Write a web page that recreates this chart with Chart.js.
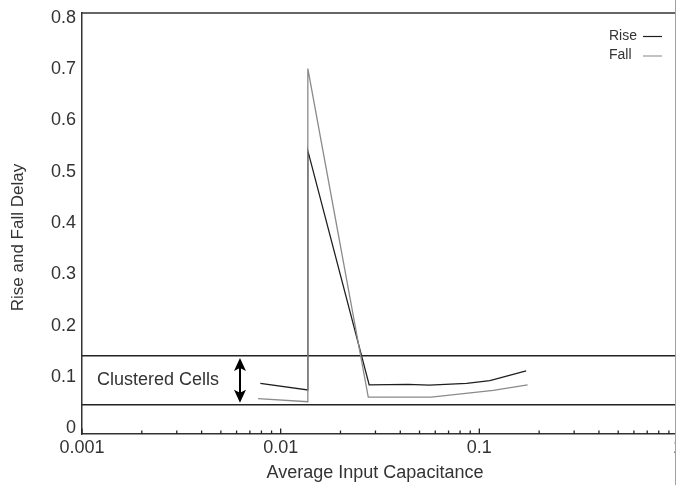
<!DOCTYPE html>
<html><head><meta charset="utf-8">
<script src="https://cdn.jsdelivr.net/npm/chart.js@4.4.0/dist/chart.umd.min.js"></script>
<style>
html,body{margin:0;padding:0;background:#fff;overflow:hidden;}
#wrap{position:absolute;left:0;top:0;width:675px;height:485px;overflow:hidden;border-right:1px solid #a0a0a0;}
#c{display:block;}
</style></head><body>
<div id="wrap"><canvas id="c" width="700" height="485" style="width:700px;height:485px"></canvas></div>
<script>
// ---- data ----
const xMajorTicks = [0.001, 0.01, 0.1, 1];
const xTickLabels = ['0.001', '0.01', '0.1', '1'];
const yTicks = [0, 0.1, 0.2, 0.3, 0.4, 0.5, 0.6, 0.7, 0.8];
const yTickLabels = ['0', '0.1', '0.2', '0.3', '0.4', '0.5', '0.6', '0.7', '0.8'];
const yRange = [-0.0108, 0.8092];
const xRange = [0.001, 1];

const riseX = [0.0079, 0.0137, 0.0137, 0.0279, 0.0438, 0.056, 0.0863, 0.113, 0.172];
const riseY = [0.088, 0.075, 0.541, 0.085, 0.086, 0.0845, 0.088, 0.093, 0.112];
const fallX = [0.0077, 0.0137, 0.0137, 0.0276, 0.0438, 0.0573, 0.1175, 0.175];
const fallY = [0.058, 0.052, 0.701, 0.061, 0.061, 0.061, 0.074, 0.085];

const bandX = [0.001, 1];
const bandY = [0.046, 0.1418];
const arrowX = 0.00624;
const arrowY = [0.0499, 0.137];
const noteX = 0.00119;
const noteY = 0.0949;
const noteText = 'Clustered Cells';
const seriesNames = ['Rise', 'Fall'];
const xTitle = 'Average Input Capacitance';
const yTitle = 'Rise and Fall Delay';

// ---- build ----
const FONT = '"Liberation Sans", Arial, sans-serif';
const TXT = '#333';
const riseColor = '#1e1e1e';
const fallColor = '#8a8a8a';

const xAllTicks = [];
for (let i = 0; i < xMajorTicks.length - 1; i++) {
  for (let m = 1; m <= 9; m++) xAllTicks.push(+(xMajorTicks[i] * m).toPrecision(6));
}
xAllTicks.push(xMajorTicks[xMajorTicks.length - 1]);

const toPts = (xs, ys) => xs.map((x, i) => ({x: x, y: ys[i]}));

const decor = {
  id: 'decor',
  afterDraw(chart) {
    const ctx = chart.ctx, ca = chart.chartArea;
    const xs = chart.scales.x, ys = chart.scales.y;
    ctx.save();
    // top frame line
    ctx.strokeStyle = '#333'; ctx.lineWidth = 1.5;
    ctx.beginPath(); ctx.moveTo(ca.left, ca.top); ctx.lineTo(ca.right, ca.top); ctx.stroke();
    // x tick marks (inward)
    ctx.lineWidth = 1.3; ctx.strokeStyle = '#222';
    xs.ticks.forEach(t => {
      const px = xs.getPixelForValue(t.value);
      const len = xMajorTicks.some(v => Math.abs(v - t.value) / v < 1e-6) ? 5.5 : 3.5;
      ctx.beginPath(); ctx.moveTo(px, ca.bottom); ctx.lineTo(px, ca.bottom - len); ctx.stroke();
    });
    // axis titles
    ctx.fillStyle = TXT;
    ctx.font = '18px ' + FONT;
    ctx.textAlign = 'center'; ctx.textBaseline = 'middle';
    ctx.fillText(xTitle, (ca.left + ca.right) / 2 - 5, 473);
    ctx.save();
    ctx.translate(18.5, 237.5); ctx.rotate(-Math.PI / 2);
    ctx.font = '17px ' + FONT;
    ctx.fillText(yTitle, 0, 0);
    ctx.restore();
    // annotation text
    ctx.font = '18px ' + FONT;
    ctx.textAlign = 'left';
    ctx.fillText(noteText, xs.getPixelForValue(noteX), ys.getPixelForValue(noteY));
    // double arrow
    const ax = xs.getPixelForValue(arrowX);
    const yTop = ys.getPixelForValue(arrowY[1]);
    const yBot = ys.getPixelForValue(arrowY[0]);
    ctx.fillStyle = '#000'; ctx.strokeStyle = '#000'; ctx.lineWidth = 2;
    ctx.beginPath(); ctx.moveTo(ax, yTop + 8); ctx.lineTo(ax, yBot - 8); ctx.stroke();
    ctx.beginPath(); ctx.moveTo(ax, yTop); ctx.lineTo(ax - 6, yTop + 13); ctx.lineTo(ax, yTop + 10); ctx.lineTo(ax + 6, yTop + 13); ctx.closePath(); ctx.fill();
    ctx.beginPath(); ctx.moveTo(ax, yBot); ctx.lineTo(ax - 6, yBot - 13); ctx.lineTo(ax, yBot - 10); ctx.lineTo(ax + 6, yBot - 13); ctx.closePath(); ctx.fill();
    // legend
    ctx.font = '14px ' + FONT;
    ctx.fillStyle = TXT; ctx.textAlign = 'left'; ctx.textBaseline = 'middle';
    const legCols = [riseColor, '#9a9a9a'];
    seriesNames.forEach((n, i) => {
      const ly = 36 + i * 19.5;
      ctx.fillText(n, 609, ly);
      ctx.strokeStyle = legCols[i]; ctx.lineWidth = 1.2;
      ctx.beginPath(); ctx.moveTo(643, ly + 0.5); ctx.lineTo(662, ly + 0.5); ctx.stroke();
    });
    ctx.restore();
  }
};

new Chart(document.getElementById('c'), {
  type: 'scatter',
  data: {
    datasets: [
      {label: seriesNames[1], data: toPts(fallX, fallY), showLine: true, borderColor: fallColor, borderWidth: 1.3, pointRadius: 0, tension: 0, order: 0},
      {label: seriesNames[0], data: toPts(riseX, riseY), showLine: true, borderColor: riseColor, borderWidth: 1.3, pointRadius: 0, tension: 0, order: 1},
      {label: 'bandLow', data: toPts(bandX, [bandY[0], bandY[0]]), showLine: true, borderColor: '#222', borderWidth: 1.5, pointRadius: 0, order: 2},
      {label: 'bandHigh', data: toPts(bandX, [bandY[1], bandY[1]]), showLine: true, borderColor: '#222', borderWidth: 1.5, pointRadius: 0, order: 2}
    ]
  },
  options: {
    responsive: false,
    animation: false,
    events: [],
    layout: {padding: {left: 0, top: 13, right: 22, bottom: 0}},
    plugins: {legend: {display: false}, tooltip: {enabled: false}, title: {display: false}},
    scales: {
      x: {
        type: 'logarithmic', min: xRange[0], max: xRange[1],
        grid: {display: false, drawTicks: false},
        border: {display: true, color: '#333', width: 1.5},
        afterBuildTicks: s => { s.ticks = xAllTicks.map(v => ({value: v})); },
        afterFit: s => { s.height = 51; s.paddingLeft = 0; },
        ticks: {
          autoSkip: false, maxRotation: 0, minRotation: 0, padding: 3,
          color: TXT, font: {family: FONT, size: 18},
          callback: (value) => {
            const i = xMajorTicks.findIndex(v => Math.abs(v - value) / v < 1e-6);
            return i >= 0 ? xTickLabels[i] : '';
          }
        }
      },
      y: {
        type: 'linear', min: yRange[0], max: yRange[1],
        grid: {display: false, drawTicks: false},
        border: {display: true, color: '#333', width: 1.5},
        afterBuildTicks: s => { s.ticks = yTicks.map(v => ({value: v})); },
        afterFit: s => { s.width = 82; s.paddingTop = 0; s.paddingBottom = 0; },
        ticks: {
          autoSkip: false, padding: 6, color: TXT, font: {family: FONT, size: 18},
          callback: (value, index) => yTickLabels[index]
        }
      }
    }
  },
  plugins: [decor]
});
</script>
</body></html>
